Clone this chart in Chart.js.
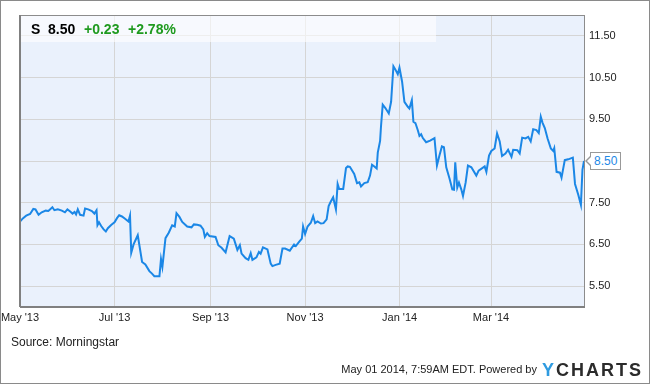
<!DOCTYPE html>
<html>
<head>
<meta charset="utf-8">
<script src="https://cdn.jsdelivr.net/npm/chart.js@4"></script>
<style>
  html, body { margin: 0; padding: 0; background: #fff; }
  #wrap { position: relative; width: 650px; height: 384px; font-family: "Liberation Sans", Arial, sans-serif; }
  #c { position: absolute; left: 0; top: 0; }
  #frame { position: absolute; left: 0; top: 0; width: 650px; height: 384px; box-sizing: border-box; border: 1px solid #8a8a8a; pointer-events: none; }
  #head { position: absolute; left: 21px; top: 16px; width: 415px; height: 26px; background: rgba(255,255,255,0.6); }
  #head span { position: absolute; top: 5px; font-weight: bold; font-size: 14px; line-height: 16px; white-space: nowrap; }
  .blk { color: #000; }
  .grn { color: #1f9a1f; }
  #src { position: absolute; left: 11px; top: 335px; font-size: 12px; color: #222; white-space: nowrap; }
  #stamp { position: absolute; right: 113px; top: 363px; font-size: 11px; color: #222; white-space: nowrap; }
  #logo { position: absolute; left: 542px; top: 360px; font-size: 18px; font-weight: bold; letter-spacing: 2px; color: #2b2b2b; white-space: nowrap; line-height: 20px; }
  #logo .y { color: #2f9be0; }
  #plabel { position: absolute; left: 589px; top: 152px; height: 16px; padding: 0 3px; border: 1px solid #999; background: #fff; color: #1e88e5; font-size: 12px; line-height: 16px; white-space: nowrap; }
  #plabel:before { content: ""; position: absolute; left: -6px; top: 2px; border-style: solid; border-width: 6px 6px 6px 0; border-color: transparent #999 transparent transparent; }
  #plabel:after { content: ""; position: absolute; left: -4px; top: 3px; border-style: solid; border-width: 5px 5px 5px 0; border-color: transparent #fff transparent transparent; }
</style>
</head>
<body>
<div id="wrap">
  <canvas id="c" width="650" height="384"></canvas>
  <div id="head">
    <span class="blk" style="left:10px">S</span>
    <span class="blk" style="left:27px">8.50</span>
    <span class="grn" style="left:63px">+0.23</span>
    <span class="grn" style="left:107px">+2.78%</span>
  </div>
  <div id="plabel">8.50</div>
  <div id="src">Source: Morningstar</div>
  <div id="stamp">May 01 2014, 7:59AM EDT. Powered by</div>
  <div id="logo"><span class="y">Y</span>CHARTS</div>
  <div id="frame"></div>
</div>
<script>
// days since May 1 2013
const dayOffsets = [
  0, 2, 4, 6.5, 8.6, 10, 12, 14, 16.6, 18.3, 20.9, 22.2, 24.4, 27, 29, 30.6, 32.4, 33.9, 35.2, 36.2,
  37.3, 38.8, 41, 42, 44, 46.4, 48, 49.4, 50, 51, 52.4, 54, 55.4, 56.7, 59, 61, 62.6, 64, 65.8, 68,
  70, 71, 71.8, 73.3, 76, 78.8, 80.9, 83.5, 85.2, 86.7, 90, 91, 91.9, 93.9, 96, 98.2, 99.9, 101, 102.9, 104.7,
  107.9, 110.7, 112.2, 114.4, 116.5, 118.3, 119.3, 120.8, 122.3, 126.2, 128, 130.1, 132.7, 135.3, 138, 140.3, 141.9, 143, 145.6, 147.4,
  148.9, 150, 152.6, 154.2, 155.3, 156.8, 159.7, 161.8, 162.9, 165, 167.6, 169.4, 171.1, 174.1, 176.9, 178, 180.1, 181.9, 182.7, 184,
  185.6, 187.7, 189.2, 190.5, 192, 194.2, 195.9, 197.9, 199.2, 200.6, 202.1, 203.9, 205, 206, 208.6, 210.4, 211.5, 212.9, 215.7, 217.5,
  219, 220.1, 222.2, 224.4, 225.9, 227.2, 228.7, 230.2, 230.9, 232.4, 233, 234.1, 235.8, 238, 239.5, 241, 242.3, 243.8, 244.9, 246.6,
  248.1, 250.3, 251.3, 252.9, 253.9, 255.2, 256.8, 257.8, 258.9, 260, 262.1, 264.7, 267.5, 269.1, 270.7, 272.3, 273.6, 275.1, 277.2, 279,
  280.1, 280.9, 282.2, 283.3, 284.8, 285.9, 287.6, 289.1, 291.3, 294.5, 296, 299.9, 301, 302.7, 304.2, 306.3, 307.9, 309.6, 311.1, 313.3,
  315, 317.2, 318.3, 321, 322.5, 324.1, 326.2, 328, 329.6, 331.2, 333.3, 334.8, 336.1, 337.2, 338.7, 340.5, 342.6, 344.1, 344.8, 346.3,
  348.5, 349.5, 351.6, 353.8, 356.8, 358.2, 360.3, 362, 363, 364
];
const prices = [
  7.05, 7.13, 7.19, 7.23, 7.35, 7.34, 7.21, 7.27, 7.31, 7.30, 7.39, 7.32, 7.34, 7.31, 7.27, 7.34, 7.29, 7.24, 7.28, 7.22,
  7.34, 7.21, 7.19, 7.36, 7.34, 7.30, 7.24, 7.32, 6.96, 7.03, 6.94, 6.86, 6.81, 6.89, 6.97, 7.03, 7.13, 7.20, 7.17, 7.11,
  7.05, 7.19, 6.30, 6.50, 6.72, 6.08, 6.02, 5.86, 5.80, 5.74, 5.74, 6.15, 5.96, 6.65, 6.78, 6.96, 6.93, 7.25, 7.16, 7.04,
  6.93, 6.91, 6.98, 6.97, 6.95, 6.86, 6.68, 6.77, 6.70, 6.68, 6.48, 6.42, 6.31, 6.70, 6.64, 6.37, 6.48, 6.28, 6.17, 6.13,
  6.29, 6.13, 6.19, 6.32, 6.28, 6.43, 6.38, 6.04, 5.98, 6.01, 6.04, 6.40, 6.40, 6.35, 6.50, 6.46, 6.56, 6.64, 6.93, 6.75,
  6.93, 7.02, 7.18, 7.01, 7.05, 7.00, 7.01, 7.10, 7.42, 7.53, 7.63, 7.34, 7.95, 7.83, 7.83, 8.33, 8.37, 8.36, 8.19, 7.97,
  7.99, 7.89, 7.97, 7.99, 8.15, 8.41, 8.37, 8.32, 8.70, 8.98, 9.34, 9.85, 9.77, 9.64, 9.92, 10.77, 10.69, 10.58, 10.74, 10.40,
  9.92, 9.80, 9.76, 9.96, 9.44, 9.41, 9.23, 9.10, 9.14, 9.05, 8.95, 8.99, 9.05, 8.39, 8.63, 8.85, 8.83, 8.35, 8.08, 7.82,
  7.81, 8.47, 7.86, 7.98, 7.82, 7.66, 7.98, 8.39, 8.35, 8.15, 8.27, 8.37, 8.24, 8.63, 8.74, 8.80, 9.16, 8.97, 8.62, 8.68,
  8.77, 8.60, 8.77, 8.76, 8.68, 9.06, 9.04, 9.08, 8.97, 9.26, 9.24, 9.17, 9.56, 9.42, 9.29, 9.04, 8.80, 8.74, 8.81, 8.24,
  8.22, 8.10, 8.52, 8.54, 8.58, 7.95, 7.69, 7.45, 8.29, 8.50
];
const xTickDays = [0, 61, 123, 184, 245, 304];
const xTickLabels = ["May '13", "Jul '13", "Sep '13", "Nov '13", "Jan '14", "Mar '14"];
const yTickValues = [5.5, 6.5, 7.5, 8.5, 9.5, 10.5, 11.5];

const points = dayOffsets.map((d, i) => ({ x: d, y: prices[i] }));

const areaPlugin = {
  id: 'area',
  beforeDraw(chart) {
    const { ctx, chartArea: a } = chart;
    ctx.save();
    ctx.fillStyle = '#eaf1fc';
    ctx.fillRect(a.left, a.top, a.right - a.left, a.bottom - a.top);
    ctx.restore();
  },
  afterDraw(chart) {
    const { ctx, chartArea: a } = chart;
    ctx.save();
    ctx.strokeStyle = '#8c8c8c';
    ctx.lineWidth = 1;
    ctx.beginPath();
    ctx.moveTo(a.left, a.top + 0.5); ctx.lineTo(a.right, a.top + 0.5);
    ctx.moveTo(a.right + 0.5, a.top); ctx.lineTo(a.right + 0.5, a.bottom);
    ctx.stroke();
    ctx.strokeStyle = '#808080';
    ctx.lineWidth = 2;
    ctx.beginPath();
    ctx.moveTo(a.left, a.top); ctx.lineTo(a.left, a.bottom);
    ctx.moveTo(a.left, a.bottom); ctx.lineTo(a.right + 1, a.bottom);
    ctx.stroke();
    ctx.restore();
    const lbl = document.getElementById('plabel');
    const yPix = chart.scales.y.getPixelForValue(prices[prices.length - 1]);
    lbl.style.top = (yPix - 9.5) + 'px';
    lbl.style.left = (a.right + 6) + 'px';
  }
};

new Chart(document.getElementById('c'), {
  type: 'line',
  data: {
    datasets: [{
      data: points,
      borderColor: '#1b87e6',
      borderWidth: 2,
      pointRadius: 0,
      tension: 0,
      fill: false,
      clip: 2
    }]
  },
  options: {
    responsive: false,
    animation: false,
    parsing: false,
    layout: { padding: { left: 20, top: 15, right: 0, bottom: 57 } },
    plugins: { legend: { display: false }, tooltip: { enabled: false } },
    scales: {
      x: {
        type: 'linear',
        min: 0,
        max: 364,
        afterBuildTicks(scale) { scale.ticks = xTickDays.map(v => ({ value: v })); },
        afterFit(scale) { scale.height = 20; scale.paddingLeft = 0; scale.paddingRight = 0; },
        ticks: {
          autoSkip: false,
          maxRotation: 0,
          padding: 4,
          color: '#222',
          font: { family: 'Liberation Sans', size: 11 },
          callback(v) { const i = xTickDays.indexOf(v); return i >= 0 ? xTickLabels[i] : ''; }
        },
        grid: { color: '#d5d5d5', drawTicks: false, lineWidth: 1 },
        border: { display: false }
      },
      y: {
        position: 'right',
        min: 5,
        max: 12,
        afterBuildTicks(scale) { scale.ticks = yTickValues.map(v => ({ value: v })); },
        afterFit(scale) { scale.width = 66; scale.paddingTop = 0; scale.paddingBottom = 0; },
        ticks: {
          padding: 5,
          color: '#222',
          font: { family: 'Liberation Sans', size: 11 },
          callback(v) { return Number(v).toFixed(2); }
        },
        grid: { color: '#d5d5d5', drawTicks: false, lineWidth: 1 },
        border: { display: false }
      }
    }
  },
  plugins: [areaPlugin]
});
</script>
</body>
</html>
